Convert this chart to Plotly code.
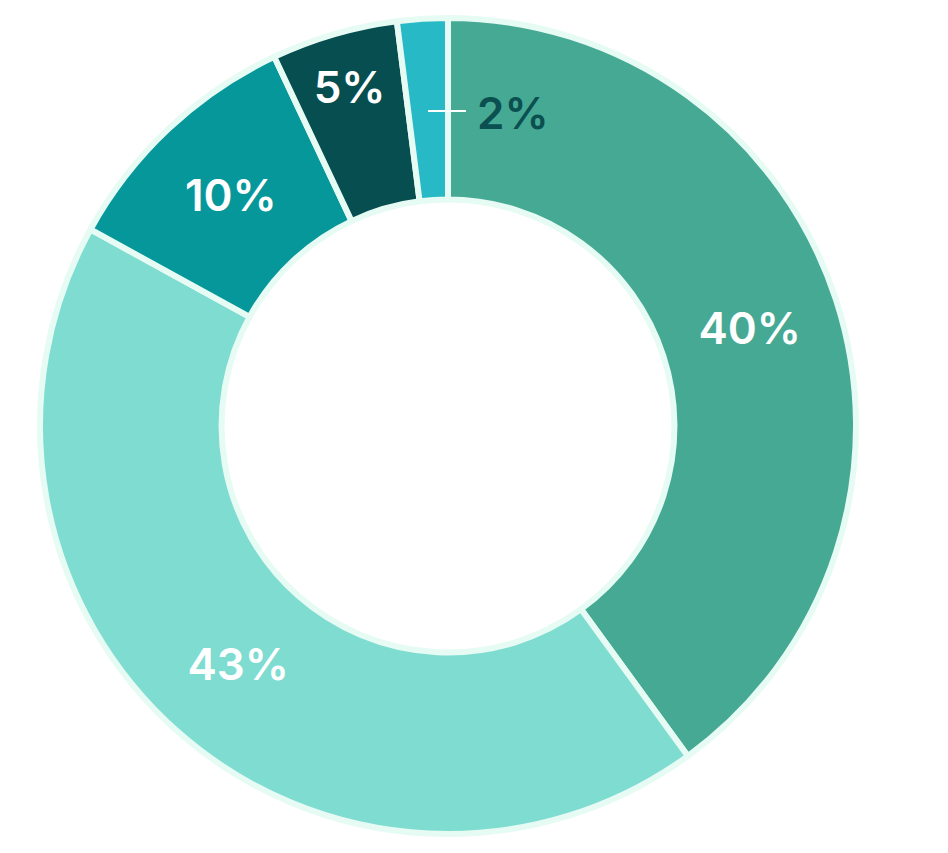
import plotly.graph_objects as go

categories = ["A", "B", "C", "D", "E"]
values = [40, 43, 10, 5, 2]
slice_colors = ["#45A994", "#7FDCD0", "#05979A", "#064E50", "#28B9C6"]
label_texts = ["40%", "43%", "10%", "5%", ""]
outside_label = "2%"

fig = go.Figure(
    go.Pie(
        labels=categories,
        values=values,
        text=label_texts,
        texttemplate="%{text}",
        textinfo="text",
        textposition="inside",
        insidetextorientation="horizontal",
        hole=0.555,
        sort=False,
        direction="clockwise",
        rotation=0,
        marker=dict(colors=slice_colors, line=dict(color="#E6FBF4", width=6)),
        textfont=dict(family="Inter, Roboto, sans-serif", size=44, color="#FFFFFF", weight=600),
        showlegend=False,
        hoverinfo="skip",
    )
)

fig.add_annotation(
    text=outside_label,
    x=0.5797, y=0.884, xref="paper", yref="paper",
    xanchor="center", yanchor="middle",
    showarrow=False,
    font=dict(family="Inter, Roboto, sans-serif", size=44, color="#0B4F51", weight=600),
)
fig.add_shape(
    type="line", xref="paper", yref="paper",
    x0=0.4755, x1=0.522, y0=0.886, y1=0.886,
    line=dict(color="#FFFFFF", width=2),
)

fig.update_layout(
    width=948, height=853,
    margin=dict(l=32, r=100, t=10, b=27),
    paper_bgcolor="#FFFFFF",
    plot_bgcolor="#FFFFFF",
)

fig.write_html("out.html")
